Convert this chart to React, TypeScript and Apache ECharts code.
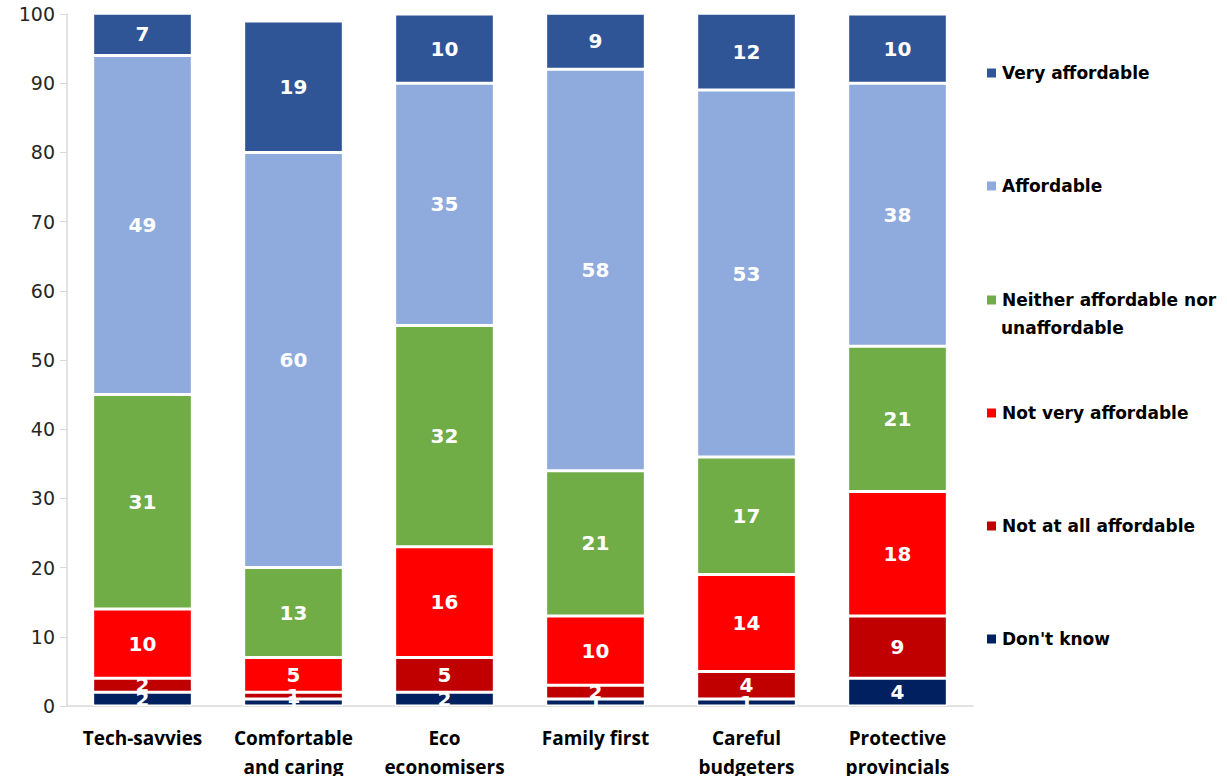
import React, { useEffect, useRef } from "react";
import * as echarts from "echarts";

const categories = [
  "Tech-savvies",
  "Comfortable\nand caring",
  "Eco\neconomisers",
  "Family first",
  "Careful\nbudgeters",
  "Protective\nprovincials",
];

const dontKnow = [2, 1, 2, 1, 1, 4];
const notAtAll = [2, 1, 5, 2, 4, 9];
const notVery = [10, 5, 16, 10, 14, 18];
const neither = [31, 13, 32, 21, 17, 21];
const affordable = [49, 60, 35, 58, 53, 38];
const veryAffordable = [7, 19, 10, 9, 12, 10];

const yTicks = [0, 10, 20, 30, 40, 50, 60, 70, 80, 90, 100];

const seriesDefs = [
  { name: "Don't know", data: dontKnow, color: "#002060" },
  { name: "Not at all affordable", data: notAtAll, color: "#C00000" },
  { name: "Not very affordable", data: notVery, color: "#FF0000" },
  { name: "Neither affordable nor unaffordable", data: neither, color: "#70AD47" },
  { name: "Affordable", data: affordable, color: "#8FAADC" },
  { name: "Very affordable", data: veryAffordable, color: "#2F5597" },
];

const legendOrder = [
  { name: "Very affordable", center: 73 },
  { name: "Affordable", center: 186 },
  { name: "Neither affordable nor unaffordable", center: 300 },
  { name: "Not very affordable", center: 413 },
  { name: "Not at all affordable", center: 526 },
  { name: "Don't know", center: 639 },
];

export default function App() {
  const ref = useRef<HTMLDivElement>(null);
  useEffect(() => {
    if (!ref.current) return;
    const chart = echarts.init(ref.current, null, { renderer: "svg" });
    const legendText = {
      fontFamily: "DejaVu Sans",
      fontWeight: "bold" as const,
      fontSize: 17,
      color: "#000",
      lineHeight: 20,
    };
    chart.setOption({
      animation: false,
      backgroundColor: "#fff",
      grid: {
        left: 67,
        right: 254,
        top: 14,
        bottom: 70,
        containLabel: false,
        outerBoundsMode: "none",
      },
      legend: legendOrder.map((l) => ({
        data: [l.name],
        orient: "vertical",
        left: 985,
        top: l.center - 10,
        padding: 0,
        icon: "rect",
        itemWidth: 11,
        itemHeight: 11,
        textStyle: legendText,
        formatter: (n: string) =>
          n === "Neither affordable nor unaffordable" ? "Neither affordable nor" : n,
        selectedMode: false,
      })),
      graphic: [
        {
          type: "text",
          left: 1001,
          top: 328 - 10,
          style: {
            text: "unaffordable",
            font: "bold 17px 'DejaVu Sans'",
            fill: "#000",
            lineHeight: 20,
          },
        },
      ],
      xAxis: {
        type: "category",
        data: categories,
        axisLine: { show: true, lineStyle: { color: "#D9D9D9", width: 1.5 } },
        axisTick: { show: false },
        axisLabel: {
          margin: 17,
          fontFamily: "Open Sans",
          fontWeight: "bold",
          fontSize: 19,
          color: "#000",
          lineHeight: 29,
          interval: 0,
        },
      },
      yAxis: {
        type: "value",
        min: 0,
        max: 100,
        interval: 10,
        axisLine: { show: true, lineStyle: { color: "#D9D9D9", width: 1.5 } },
        axisTick: { show: true, length: 7, lineStyle: { color: "#D9D9D9" } },
        splitLine: { show: false },
        axisLabel: {
          margin: 12,
          fontFamily: "DejaVu Sans",
          fontSize: 19,
          color: "#262626",
          formatter: (v: number) => (yTicks.includes(v) ? String(v) : ""),
        },
      },
      series: seriesDefs.map((s) => ({
        name: s.name,
        type: "bar",
        stack: "total",
        data: s.data,
        barCategoryGap: "34%",
        clip: true,
        itemStyle: { color: s.color, borderColor: "#fff", borderWidth: 1.5 },
        label: {
          show: true,
          position: "inside",
          color: "#fff",
          fontFamily: "DejaVu Sans",
          fontWeight: "bold",
          fontSize: 20,
        },
      })),
    });
    return () => chart.dispose();
  }, []);
  return (
    <div
      ref={ref}
      style={{ position: "absolute", left: 0, top: 0, width: 1227, height: 776 }}
    />
  );
}
